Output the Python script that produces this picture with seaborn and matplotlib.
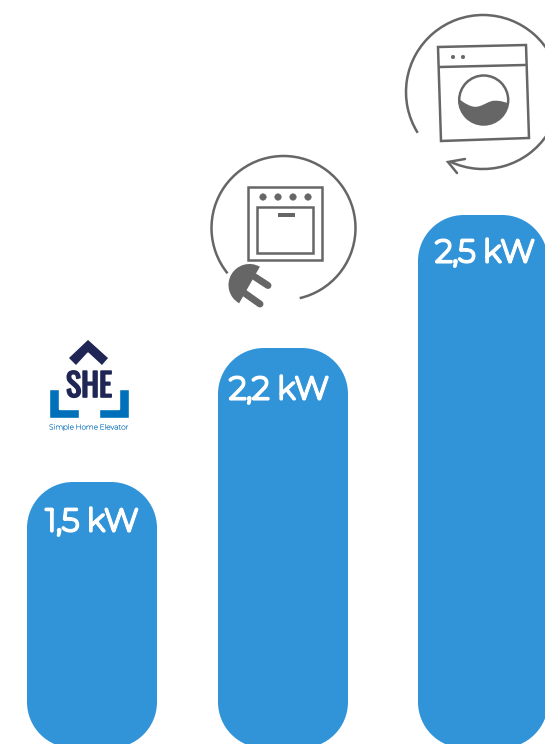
import matplotlib
matplotlib.use('Agg')
import matplotlib.pyplot as plt
import matplotlib.patheffects as pe
import pandas as pd
import seaborn as sns
from matplotlib import font_manager
from matplotlib.patches import Arc, Circle, PathPatch, Polygon, Rectangle, Wedge
from matplotlib.path import Path

# values
power_labels = ['1,5 kW', '2,2 kW', '2,5 kW']
bar_levels = [266, 400, 533]   # drawn height, the bars are not to scale with kW

BAR_BLUE = '#3194D9'
ICON_GREY = '#666666'
LOGO_NAVY = '#1F2555'
LOGO_BLUE = '#0070BA'
LOGO_TEXT = '#2F86C8'


def first_font(*names):
    # only ask for faces the box has, keeps findfont quiet
    have = {f.name for f in font_manager.fontManager.ttflist}
    return [n for n in names if n in have] + ['DejaVu Sans']


def rounded_bar(x, w, h, r):
    # circular corners, FancyBboxPatch's round style comes out too pointy
    k = 0.5523 * r
    verts = [(x + r, 0), (x + w - r, 0),
             (x + w - r + k, 0), (x + w, r - k), (x + w, r),
             (x + w, h - r),
             (x + w, h - r + k), (x + w - r + k, h), (x + w - r, h),
             (x + r, h),
             (x + r - k, h), (x, h - r + k), (x, h - r),
             (x, r),
             (x, r - k), (x + r - k, 0), (x + r, 0),
             (x + r, 0)]
    codes = [Path.MOVETO, Path.LINETO,
             Path.CURVE4, Path.CURVE4, Path.CURVE4,
             Path.LINETO,
             Path.CURVE4, Path.CURVE4, Path.CURVE4,
             Path.LINETO,
             Path.CURVE4, Path.CURVE4, Path.CURVE4,
             Path.LINETO,
             Path.CURVE4, Path.CURVE4, Path.CURVE4,
             Path.CLOSEPOLY]
    return Path(verts, codes)


def heavier(width, color):
    # the Montserrat here only draws thin, so thicken it with a stroke
    return [pe.withStroke(linewidth=width, foreground=color)]


sns.set_style('white')
plt.rcParams['font.family'] = first_font('Montserrat', 'Inter')

fig = plt.figure(figsize=(5.45, 7.44), dpi=100)
ax = fig.add_axes([0, 0, 1, 1])

df = pd.DataFrame({'center': [92, 283, 483], 'level': bar_levels})
sns.barplot(data=df, x='center', y='level', native_scale=True, width=130 / 191,
            color=BAR_BLUE, saturation=1, ax=ax, legend=False)
ax.set_xlim(0, 545)
ax.set_ylim(4, 748)
ax.axis('off')

# swap the square bars for rounded ones
for bar in list(ax.patches):
    x, w, h = bar.get_x(), bar.get_width(), bar.get_height()
    bar.set_visible(False)
    ax.add_patch(PathPatch(rounded_bar(x, w, h, 46), fc=BAR_BLUE, ec='none'))

# value labels, offset from the top of each bar
label_x = [92, 279, 485]
label_drop = [41, 43, 39]
for label, lx, level, drop in zip(power_labels, label_x, bar_levels, label_drop):
    ax.text(lx, level - drop, label, color='white', ha='center', va='center',
            fontsize=22.5, path_effects=heavier(2.2, 'white'))

# icons are drawn in picture pixels on an overlay
ov = fig.add_axes([0, 0, 1, 1])
ov.set_xlim(0, 545)
ov.set_ylim(744, 0)
ov.axis('off')
ov.patch.set_alpha(0)

# logo
ov.add_patch(Polygon([(88, 339), (109, 358), (102, 366), (88, 353), (76, 366), (68, 358)], fc=LOGO_NAVY))
ov.add_patch(Polygon([(49, 389), (59, 389), (59, 409), (79, 409), (79, 418), (49, 418)], fc=LOGO_BLUE))
ov.add_patch(Polygon([(129, 389), (119, 389), (119, 409), (99, 409), (99, 418), (129, 418)], fc=LOGO_BLUE))
ov.text(89, 387, 'SHE', color=LOGO_NAVY, ha='center', va='center', fontsize=23,
        family=first_font('Oswald', 'Special Gothic Condensed One', 'Roboto Condensed'),
        path_effects=heavier(1.2, LOGO_NAVY))
ov.text(89, 427, 'Simple Home Elevator', color=LOGO_TEXT, ha='center', va='center', fontsize=5.2,
        path_effects=heavier(0.2, LOGO_TEXT))

lw = 1.8

# oven
ov.add_patch(Arc((283.5, 228), 144, 144, theta1=141, theta2=437, ec=ICON_GREY, lw=lw))
ov.add_patch(Rectangle((248, 187), 74, 73, fc='none', ec=ICON_GREY, lw=lw))
ov.add_patch(Rectangle((257, 207), 56, 46, fc='none', ec=ICON_GREY, lw=lw))
for dot_x in (263, 278, 293, 308):
    ov.add_patch(Circle((dot_x, 197), 3.2, fc=ICON_GREY, ec=ICON_GREY, lw=0.5))
ov.add_patch(Rectangle((278, 213), 17, 3.5, fc=ICON_GREY, ec='none'))
ov.add_patch(Wedge((249.5, 285), 21, 119.6, 299.6, fc=ICON_GREY, ec='none'))
ov.plot([255, 268], [277, 285.5], color=ICON_GREY, lw=5, solid_capstyle='round')
ov.plot([243, 260], [292, 304], color=ICON_GREY, lw=5, solid_capstyle='round')

# washing machine
ov.add_patch(Arc((483, 92), 154, 154, theta1=148, theta2=475, ec=ICON_GREY, lw=lw))
ov.add_patch(Polygon([(438, 47), (526, 45), (529, 138), (441, 141)], fc='none', ec=ICON_GREY, lw=lw))
ov.plot([440, 525], [67, 65], color=ICON_GREY, lw=lw)
for dot_x in (453, 463):
    ov.add_patch(Circle((dot_x, 57), 1.7, fc=ICON_GREY, ec=ICON_GREY, lw=0.5))
drum = Circle((483.7, 100), 24.5, fc='none', ec=ICON_GREY, lw=lw)
ov.add_patch(drum)
wave = Path([(455, 96), (465, 104), (472, 108), (478, 106.5),
             (485, 105), (489, 100.5), (495, 100.7),
             (500, 100.5), (505, 102), (510, 104),
             (510, 130), (455, 130), (455, 96)],
            [Path.MOVETO] + [Path.CURVE4] * 9 + [Path.LINETO, Path.LINETO, Path.CLOSEPOLY])
water = PathPatch(wave, fc=ICON_GREY, ec='none')
ov.add_patch(water)
water.set_clip_path(drum)
ov.plot([465, 448, 457], [159, 162, 173], color=ICON_GREY, lw=lw, solid_joinstyle='miter')

fig.savefig('out.png', dpi=100)
